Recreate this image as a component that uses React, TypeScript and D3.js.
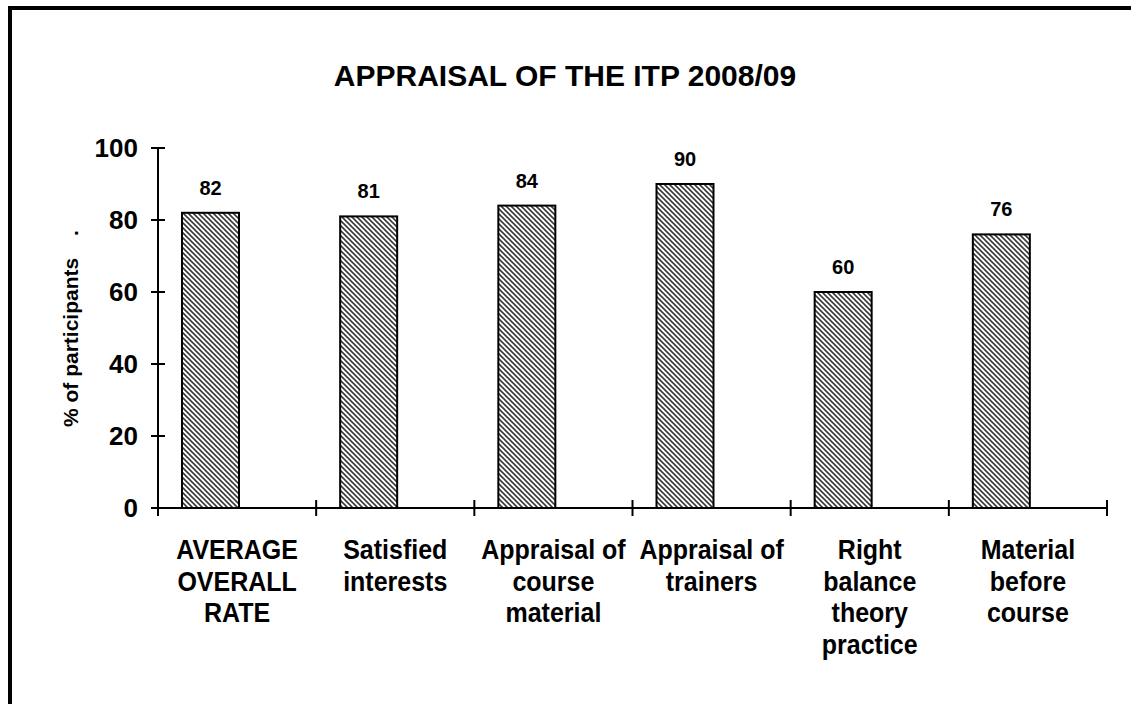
import * as d3 from "d3";
import { useEffect, useRef } from "react";

const categories = [
  ["AVERAGE", "OVERALL", "RATE"],
  ["Satisfied", "interests"],
  ["Appraisal of", "course", "material"],
  ["Appraisal of", "trainers"],
  ["Right", "balance", "theory", "practice"],
  ["Material", "before", "course"],
];
const values = [82, 81, 84, 90, 60, 76];
const yTicks = [0, 20, 40, 60, 80, 100];

const App = () => {
  const ref = useRef<SVGSVGElement>(null);

  useEffect(() => {
    const svg = d3.select(ref.current);
    const width = 1131;
    const height = 704;
    const font = "Liberation Sans, Arial, sans-serif";
    svg.attr("width", width).attr("height", height);

    // hatch
    const defs = svg.append("defs");
    const pat = defs
      .append("pattern")
      .attr("id", "hatch")
      .attr("patternUnits", "userSpaceOnUse")
      .attr("width", 5)
      .attr("height", 5);
    pat.append("rect").attr("width", 5).attr("height", 5).attr("fill", "#fff");
    pat
      .append("path")
      .attr("d", "M-1,-1 L6,6 M-1,4 L1,6 M4,-1 L6,1")
      .attr("stroke", "#3a3a3a")
      .attr("stroke-width", 1.6);

    // frame (only top and left visible)
    svg
      .append("path")
      .attr("d", `M10,${height} L10,8 L${width},8`)
      .attr("fill", "none")
      .attr("stroke", "#000")
      .attr("stroke-width", 4);

    svg
      .append("text")
      .attr("x", 565)
      .attr("y", 86)
      .attr("text-anchor", "middle")
      .attr("font-family", font)
      .attr("font-weight", "bold")
      .attr("font-size", 30)
      .text("APPRAISAL OF THE ITP 2008/09");

    const left = 158;
    const right = 1107;
    const top = 148;
    const bottom = 508;

    const x = d3
      .scaleBand<number>()
      .domain(d3.range(values.length))
      .range([left, right]);
    const y = d3.scaleLinear().domain([0, 100]).range([bottom, top]);

    const g = svg.append("g");

    // bars
    const barW = 57;
    const barOff = 24;
    g.selectAll("rect.bar")
      .data(values)
      .join("rect")
      .attr("class", "bar")
      .attr("x", (_, i) => x(i)! + barOff)
      .attr("y", (d) => y(d))
      .attr("width", barW)
      .attr("height", (d) => bottom - y(d))
      .attr("fill", "url(#hatch)")
      .attr("stroke", "#000")
      .attr("stroke-width", 2);

    g.selectAll("text.val")
      .data(values)
      .join("text")
      .attr("class", "val")
      .attr("x", (_, i) => x(i)! + barOff + barW / 2)
      .attr("y", (d) => y(d) - 18)
      .attr("text-anchor", "middle")
      .attr("font-family", font)
      .attr("font-weight", "bold")
      .attr("font-size", 20)
      .text((d) => d);

    // y axis
    g.append("line")
      .attr("x1", left)
      .attr("x2", left)
      .attr("y1", top)
      .attr("y2", bottom)
      .attr("stroke", "#000")
      .attr("stroke-width", 2);
    yTicks.forEach((t) => {
      g.append("line")
        .attr("x1", left - 7)
        .attr("x2", left + 7)
        .attr("y1", y(t))
        .attr("y2", y(t))
        .attr("stroke", "#000")
        .attr("stroke-width", 2);
      g.append("text")
        .attr("x", 138)
        .attr("y", y(t) + 9)
        .attr("text-anchor", "end")
        .attr("font-family", font)
        .attr("font-weight", "bold")
        .attr("font-size", 26)
        .text(t);
    });

    // x axis
    g.append("line")
      .attr("x1", left)
      .attr("x2", right)
      .attr("y1", bottom)
      .attr("y2", bottom)
      .attr("stroke", "#000")
      .attr("stroke-width", 2);
    const bounds = [...d3.range(values.length).map((i) => x(i)!), right];
    bounds.forEach((b) => {
      g.append("line")
        .attr("x1", b)
        .attr("x2", b)
        .attr("y1", bottom - 8)
        .attr("y2", bottom + 8)
        .attr("stroke", "#000")
        .attr("stroke-width", 2);
    });

    categories.forEach((lines, i) => {
      lines.forEach((l, j) => {
        g.append("text")
          .attr(
            "transform",
            `translate(${x(i)! + x.bandwidth() / 2},${559 + j * 31.5}) scale(1,1.1)`
          )
          .attr("text-anchor", "middle")
          .attr("font-family", font)
          .attr("font-weight", "bold")
          .attr("font-size", 25)
          .text(l);
      });
    });

    // y label
    svg
      .append("text")
      .attr("transform", "translate(78,427) rotate(-90)")
      .attr("text-anchor", "start")
      .attr("font-family", font)
      .attr("font-weight", "bold")
      .attr("font-size", 21)
      .text("% of participants");
    svg
      .append("text")
      .attr("transform", "translate(78,236) rotate(-90)")
      .attr("text-anchor", "start")
      .attr("font-family", font)
      .attr("font-weight", "bold")
      .attr("font-size", 21)
      .text(".");

    return () => {
      svg.selectAll("*").remove();
    };
  }, []);

  return <svg ref={ref} style={{ display: "block", position: "absolute", left: 0, top: 0 }}></svg>;
};

export default App;
